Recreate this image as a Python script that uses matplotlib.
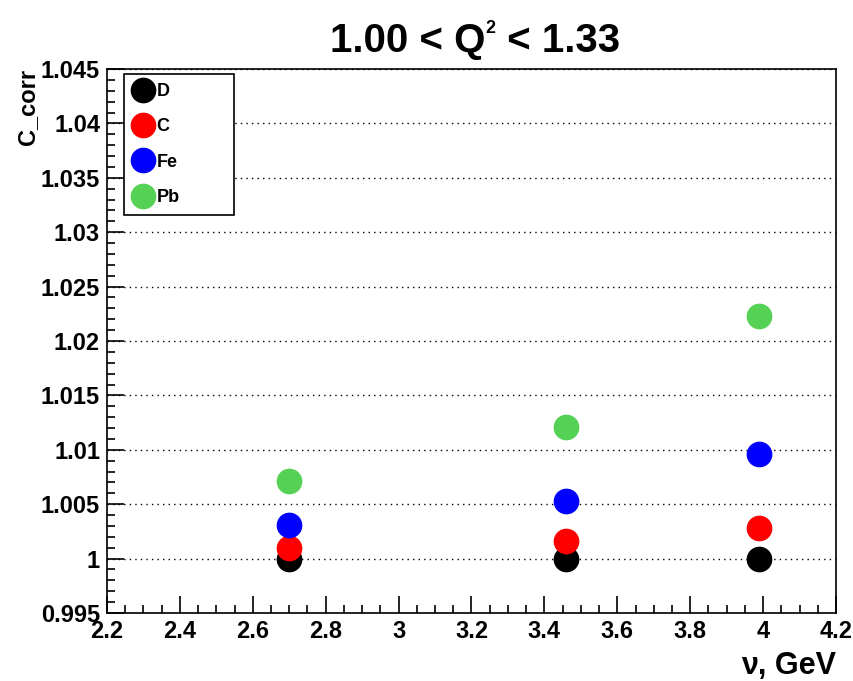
import matplotlib
matplotlib.use("Agg")
import matplotlib.pyplot as plt
from matplotlib.ticker import MultipleLocator, FuncFormatter

plt.rcParams['font.family'] = ['Liberation Sans', 'DejaVu Sans']
plt.rcParams['font.weight'] = 'bold'

# nu bins (GeV)
nu = [2.70, 3.46, 3.99]
# correction factor per target
c_D = [1.0000, 1.0000, 1.0000]
c_C = [1.0010, 1.0016, 1.0028]
c_Fe = [1.0031, 1.0053, 1.0096]
c_Pb = [1.0071, 1.0121, 1.0223]

targets = ["D", "C", "Fe", "Pb"]
colors = ["#000000", "#ff0000", "#0000ff", "#55d255"]
series = [c_D, c_C, c_Fe, c_Pb]

W, H = 854, 681
fig = plt.figure(figsize=(W / 100, H / 100), dpi=100)
ax = fig.add_axes([107 / W, 1 - 613 / H, (836 - 107) / W, (613 - 69) / H])

for name, col, vals in zip(targets, colors, series):
    ax.plot(nu, vals, linestyle="none", marker="o", markersize=17.5,
            markerfacecolor=col, markeredgecolor=col, label=name, zorder=3)

ax.set_xlim(2.2, 4.2)
ax.set_ylim(0.995, 1.045)

ax.xaxis.set_major_locator(MultipleLocator(0.2))
ax.xaxis.set_minor_locator(MultipleLocator(0.05))
ax.yaxis.set_major_locator(MultipleLocator(0.005))
ax.yaxis.set_minor_locator(MultipleLocator(0.001))

def fmt(v, pos):
    return f"{v:.3f}".rstrip("0").rstrip(".")
ax.xaxis.set_major_formatter(FuncFormatter(fmt))
ax.yaxis.set_major_formatter(FuncFormatter(fmt))

ax.tick_params(axis="both", which="both", direction="in", top=False, right=False,
               width=1.2, colors="black")
ax.tick_params(axis="both", which="major", length=12, labelsize=17, pad=5)
ax.tick_params(axis="both", which="minor", length=6)
for lab in ax.get_xticklabels() + ax.get_yticklabels():
    lab.set_fontweight("bold")

for s in ax.spines.values():
    s.set_linewidth(1.2)
    s.set_color("black")

ax.yaxis.grid(True, which="major", color="black", linestyle=(0, (1, 3)), linewidth=1.0)
ax.set_axisbelow(True)

ax.set_xlabel("ν, GeV", fontsize=22, fontweight="bold", loc="right", labelpad=6)
ax.set_ylabel("C_corr", fontsize=17, fontweight="bold", loc="top", labelpad=1)

leg = ax.legend(loc="upper left", bbox_to_anchor=(0.023, 0.5, 0.151, 0.491),
                mode="expand", borderaxespad=0,
                fancybox=False, edgecolor="black", framealpha=1,
                prop={"weight": "bold", "size": 13}, handlelength=1.1,
                handletextpad=0.2, labelspacing=1.02, borderpad=0.5,
                markerscale=1.0)
leg.get_frame().set_linewidth(1.2)

# Title: "1.00 < Q^2 < 1.33" with a small raised exponent
fig.canvas.draw()
renderer = fig.canvas.get_renderer()
tsize = 29
ty = 1 - 52 / H
parts = [("1.00 < Q", tsize, 0.0), ("2", 13, 19 / H), (" < 1.33", tsize, 0.0)]
texts = [fig.text(0, ty + dy, s, fontsize=fs, fontweight="bold", ha="left", va="baseline")
         for s, fs, dy in parts]
widths = [t.get_window_extent(renderer).width for t in texts]
total = sum(widths)
x = 475 - total / 2
for t, w in zip(texts, widths):
    t.set_x(x / W)
    x += w

fig.savefig("out.png", dpi=100)
